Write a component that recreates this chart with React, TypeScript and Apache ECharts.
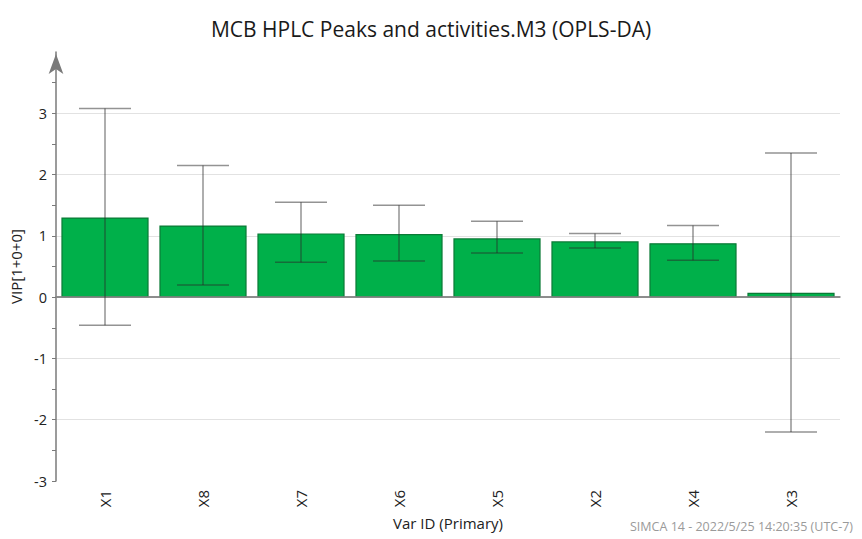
import React, { useEffect, useRef } from "react";
import * as echarts from "echarts";

// Variable importance (VIP) per variable, with confidence intervals
const categories = ["X1", "X8", "X7", "X6", "X5", "X2", "X4", "X3"];
const vip = [1.3, 1.17, 1.04, 1.03, 0.96, 0.91, 0.88, 0.07];
const ciLow = [-0.46, 0.2, 0.57, 0.59, 0.72, 0.8, 0.6, -2.2];
const ciHigh = [3.08, 2.15, 1.55, 1.5, 1.24, 1.04, 1.17, 2.35];

const FONT = "'Open Sans', 'Noto Sans', sans-serif";

export default function App() {
  const ref = useRef<HTMLDivElement>(null);

  useEffect(() => {
    document.body.style.margin = "0";
    const chart = echarts.init(ref.current!, null, { renderer: "svg" });

    const errData = categories.map((_, i) => [i, ciLow[i], ciHigh[i]]);

    chart.setOption({
      animation: false,
      backgroundColor: "#ffffff",
      textStyle: { fontFamily: FONT },
      title: [
        {
          text: "MCB HPLC Peaks and activities.M3 (OPLS-DA)",
          left: "center",
          top: 13,
          textStyle: { fontFamily: FONT, fontSize: 21, fontWeight: "normal", color: "#1a1a1a" },
        },
        {
          text: "SIMCA 14 - 2022/5/25 14:20:35 (UTC-7)",
          right: 4,
          bottom: 1,
          textStyle: { fontFamily: FONT, fontSize: 12.5, fontWeight: "normal", color: "#9a9a9a" },
        },
      ],
      grid: { left: 56, right: 22, top: 52, bottom: 58 },
      xAxis: {
        type: "category",
        data: categories,
        name: "Var ID (Primary)",
        nameLocation: "middle",
        nameGap: 32,
        nameTextStyle: { fontFamily: FONT, fontSize: 15, color: "#222" },
        axisLine: { lineStyle: { color: "#7a7a7a", width: 1.5 } },
        axisTick: { alignWithLabel: true, length: 6, lineStyle: { color: "#7a7a7a" } },
        axisLabel: { rotate: 90, fontFamily: FONT, fontSize: 15, color: "#222", margin: 9 },
        splitLine: { show: false },
      },
      yAxis: {
        type: "value",
        min: -3,
        max: 4,
        interval: 0.5,
        name: "VIP[1+0+0]",
        nameLocation: "middle",
        nameGap: 26,
        nameTextStyle: { fontFamily: FONT, fontSize: 15, color: "#222" },
        axisLine: {
          show: true,
          symbol: ["none", "arrow"],
          symbolSize: [11, 20],
          symbolOffset: [0, -2],
          lineStyle: { color: "#7a7a7a", width: 1.5 },
        },
        axisTick: { show: true, length: 4, lineStyle: { color: "#7a7a7a" } },
        axisLabel: {
          fontFamily: FONT,
          fontSize: 14.5,
          color: "#222",
          margin: 9,
          showMaxLabel: false,
          formatter: (v: number) => (Number.isInteger(v) && v <= 3 ? String(v) : ""),
        },
        splitLine: {
          show: true,
          showMinLine: false,
          showMaxLine: false,
          lineStyle: { color: ["rgba(0,0,0,0)", "#e2e2e2"], width: 1.2 },
        },
      },
      series: [
        {
          type: "bar",
          data: vip,
          barCategoryGap: "11%",
          itemStyle: { color: "#00b04a", borderColor: "#0b7a36", borderWidth: 1.2 },
          markLine: {
            silent: true,
            symbol: "none",
            label: { show: false },
            lineStyle: { color: "#8a8a8a", type: "solid", width: 1.5 },
            data: [{ yAxis: 0 }],
          },
        },
        {
          type: "custom",
          data: errData,
          encode: { x: 0, y: [1, 2] },
          z: 5,
          renderItem: (_params: any, api: any) => {
            const idx = api.value(0);
            const lo = api.coord([idx, api.value(1)]);
            const hi = api.coord([idx, api.value(2)]);
            const half = 26;
            const style = { stroke: "rgba(40,40,40,0.5)", lineWidth: 1.5 };
            return {
              type: "group",
              children: [
                { type: "line", shape: { x1: lo[0], y1: lo[1], x2: hi[0], y2: hi[1] }, style },
                { type: "line", shape: { x1: hi[0] - half, y1: hi[1], x2: hi[0] + half, y2: hi[1] }, style },
                { type: "line", shape: { x1: lo[0] - half, y1: lo[1], x2: lo[0] + half, y2: lo[1] }, style },
              ],
            };
          },
        },
      ],
    });

    return () => chart.dispose();
  }, []);

  return <div ref={ref} style={{ width: 862, height: 539 }} />;
}
